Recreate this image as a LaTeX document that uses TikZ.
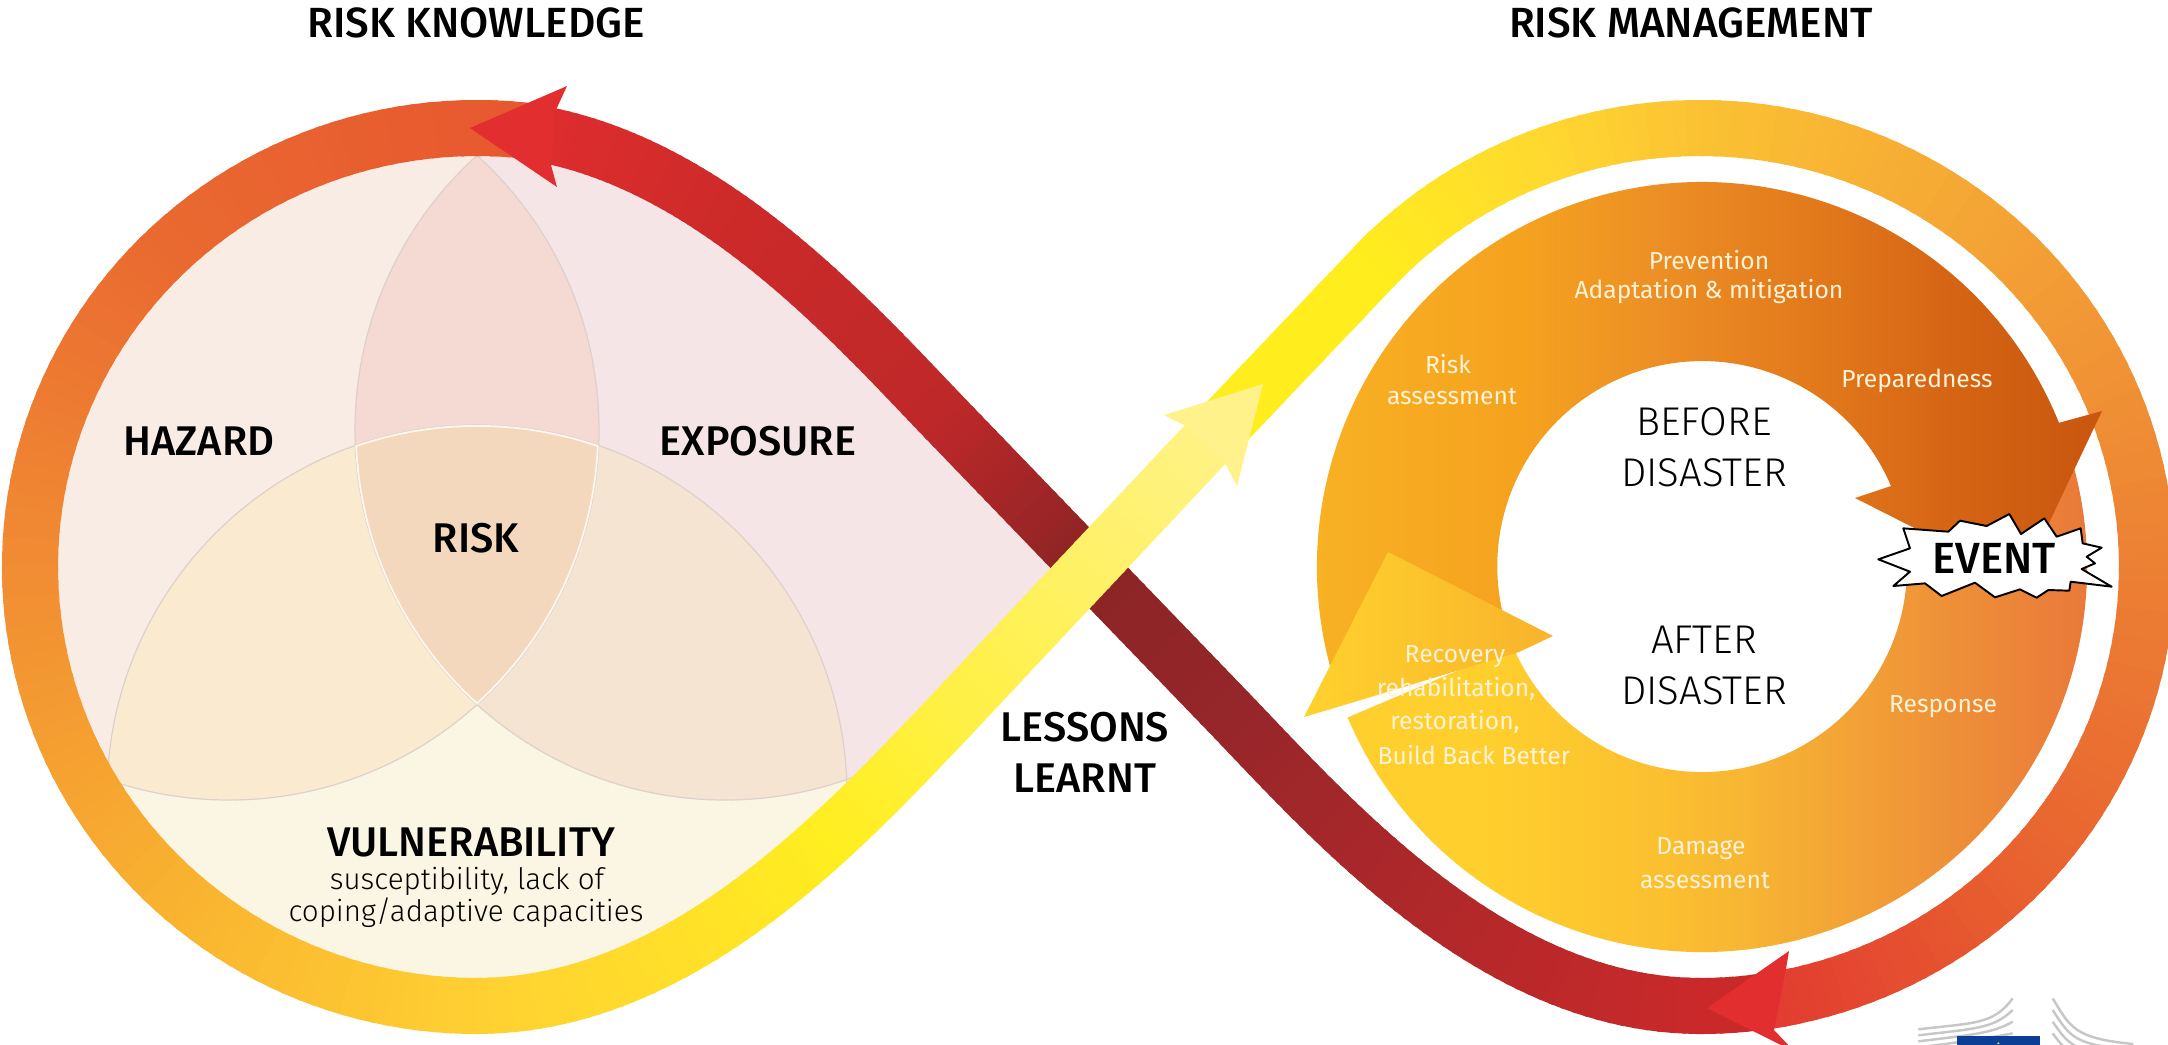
\documentclass[tikz,border=0pt]{standalone}
\usepackage{fontspec}
\setmainfont{Fira Sans}
\newfontfamily\medf{Fira Sans Medium}
\newfontfamily\lightf{Fira Sans Light}
\usetikzlibrary{calc}
\definecolor{hz}{HTML}{F9ECE5}\definecolor{ex}{HTML}{F5E5E7}\definecolor{vu}{HTML}{FBF5E3}
\definecolor{he}{HTML}{F5D9D3}\definecolor{hv}{HTML}{FAEBD0}\definecolor{ev}{HTML}{F6E4D2}\definecolor{hev}{HTML}{F4D8BD}
\definecolor{vln}{HTML}{DCD2CB}\definecolor{vwh}{HTML}{FDF7EF}
\definecolor{a0}{HTML}{E8572F}\definecolor{a1}{HTML}{E96A30}\definecolor{a2}{HTML}{F18C33}\definecolor{a3}{HTML}{F8B030}
\definecolor{a4}{HTML}{FFD032}\definecolor{a5}{HTML}{FFEE20}\definecolor{a6}{HTML}{FFF040}\definecolor{a7}{HTML}{FFF284}
\definecolor{b0}{HTML}{FFED1E}\definecolor{b1}{HTML}{FFD830}\definecolor{b2}{HTML}{FBC233}\definecolor{b3}{HTML}{F3A035}
\definecolor{b4}{HTML}{EC8034}\definecolor{b5}{HTML}{E8612F}\definecolor{b6}{HTML}{E23C30}
\definecolor{cs}{HTML}{D02A2A}\definecolor{c0}{HTML}{BC282A}\definecolor{c1}{HTML}{96262A}\definecolor{c2}{HTML}{8B2425}\definecolor{c3}{HTML}{BE2829}\definecolor{c5}{HTML}{CB2A29}\definecolor{c4}{HTML}{E02D2E}
\definecolor{redhead}{HTML}{E22E2F}\definecolor{yelhead}{HTML}{FFF28A}
\definecolor{lh0}{HTML}{FFD22D}\definecolor{lh1}{HTML}{F8B32C}
\definecolor{u0}{HTML}{F9B424}\definecolor{u1}{HTML}{F5A21F}\definecolor{u2}{HTML}{EC8F25}\definecolor{u3}{HTML}{E2781B}\definecolor{u4}{HTML}{D56414}\definecolor{u5}{HTML}{C8560F}
\definecolor{l0}{HTML}{FFCF2D}\definecolor{l4}{HTML}{FBBF30}\definecolor{l1}{HTML}{F7B633}\definecolor{l2}{HTML}{EE9038}\definecolor{l3}{HTML}{E8703A}
\definecolor{ringtxt}{HTML}{FFF3D6}\definecolor{eublue}{HTML}{0B3F96}
\pgfdeclarehorizontalshading{uppershade}{100bp}{color(0bp)=(u0);color(25bp)=(u0);color(40bp)=(u1);color(48bp)=(u2);color(58bp)=(u3);color(66bp)=(u4);color(75bp)=(u5);color(100bp)=(u5)}
\pgfdeclarehorizontalshading{lowershade}{100bp}{color(0bp)=(l0);color(34bp)=(l0);color(45bp)=(l4);color(50bp)=(l1);color(63bp)=(l2);color(75bp)=(l3);color(100bp)=(l3)}
% band pieces: colours run along the centre line
\newcommand\arcband[7]{% cx cy a0 a1 c0 c1 n
  \foreach \i in {1,...,#7}{%
    \pgfmathsetmacro\aa{#3+(#4-#3)*(\i-1)/#7}%
    \pgfmathsetmacro\bb{#3+(#4-#3)*(\i+0.4)/#7}%
    \pgfmathsetmacro\pct{100*(1-(\i-0.5)/#7)}%
    \draw[band,draw=#5!\pct!#6] (#1,#2)++(\aa:447 and 439) arc[start angle=\aa,end angle=\bb,x radius=447,y radius=439];
  }}
\newcommand\lineband[7]{% x0 y0 x1 y1 c0 c1 n
  \foreach \i in {1,...,#7}{%
    \pgfmathsetmacro\pa{(\i-1)/#7}%
    \pgfmathsetmacro\pb{(\i+0.4)/#7}%
    \pgfmathsetmacro\pct{100*(1-(\i-0.5)/#7)}%
    \draw[band,draw=#5!\pct!#6] ({#1+(#3-#1)*\pa},{#2+(#4-#2)*\pa}) -- ({#1+(#3-#1)*\pb},{#2+(#4-#2)*\pb});
  }}
\newcommand\setbez[8]{\def\Bxa{#1}\def\Bya{#2}\def\Bxb{#3}\def\Byb{#4}\def\Bxc{#5}\def\Byc{#6}\def\Bxd{#7}\def\Byd{#8}}
\newcommand\bzpt[3]{% t, macro x, macro y
  \pgfmathsetmacro\uu{1-#1}%
  \pgfmathsetmacro#2{\uu*\uu*\uu*\Bxa+3*\uu*\uu*#1*\Bxb+3*\uu*#1*#1*\Bxc+#1*#1*#1*\Bxd}%
  \pgfmathsetmacro#3{\uu*\uu*\uu*\Bya+3*\uu*\uu*#1*\Byb+3*\uu*#1*#1*\Byc+#1*#1*#1*\Byd}}
\newcommand\bezband[5]{% t0 t1 c0 c1 n
  \foreach \i in {1,...,#5}{%
    \pgfmathsetmacro\ta{#1+(#2-#1)*(\i-1)/#5}%
    \pgfmathsetmacro\tb{#1+(#2-#1)*(\i+0.4)/#5}%
    \pgfmathsetmacro\pct{100*(1-(\i-0.5)/#5)}%
    \bzpt{\ta}{\xa}{\ya}\bzpt{\tb}{\xb}{\yb}%
    \draw[band,draw=#3!\pct!#4] (\xa,\ya) -- (\xb,\yb);
  }}
\tikzset{band/.style={line width=0.56cm,line cap=butt},
  bigcap/.style={font=\medf\fontsize{12pt}{14pt}\selectfont,text=black,inner sep=0pt},
  midcap/.style={font=\medf\fontsize{11.8pt}{13pt}\selectfont,text=black,inner sep=0pt},
  subtxt/.style={font=\lightf\fontsize{8.4pt}{10pt}\selectfont,text=black,inner sep=0pt},
  centertxt/.style={font=\lightf\fontsize{11.4pt}{14pt}\selectfont,text=black,inner sep=0pt},
  ringlab/.style={font=\rmfamily\fontsize{7pt}{9pt}\selectfont,text=ringtxt,inner sep=0pt},
  vennline/.style={draw=vln,line width=0.35pt},
  wing/.style={draw=black!22,line width=0.7pt}}
\begin{document}
\begin{tikzpicture}[x=0.01cm,y=-0.01cm]
\useasboundingbox (0,0) rectangle (2168,1044);
\clip (0,0) rectangle (2168,1044);
% ---------- Venn ----------
\begin{scope}
 \clip (477,128) .. controls (677,128) and (836,304) .. (940,413) -- (1088.5,567) -- (940,727) .. controls (836,836) and (677,1006) .. (477,1006) arc[start angle=90,end angle=270,x radius=447,y radius=439] -- cycle;
 \fill[vu] (0,100) rectangle (1100,1044);
 \fill[hz] (229,430) circle[radius=370];
 \fill[ex] (725,430) circle[radius=370];
 \begin{scope}\clip (229,430) circle[radius=370]; \fill[he] (725,430) circle[radius=370];\end{scope}
 \begin{scope}\clip (477,795) circle[radius=370];
   \fill[vu] (0,100) rectangle (1100,1044);
   \fill[hv] (229,430) circle[radius=370];
   \fill[ev] (725,430) circle[radius=370];
   \begin{scope}\clip (229,430) circle[radius=370]; \fill[hev] (725,430) circle[radius=370];\end{scope}
 \end{scope}
 \draw[vennline] (229,430) circle[radius=370];
 \draw[vennline] (725,430) circle[radius=370];
 \draw[vennline] (477,795) circle[radius=370];
 \begin{scope}\clip (477,795) circle[radius=370];\clip (229,430) circle[radius=370];\clip (725,430) circle[radius=370];
  \draw[vwh,line width=1pt] (477,795) circle[radius=370];
  \draw[vwh,line width=1pt] (229,430) circle[radius=370];
  \draw[vwh,line width=1pt] (725,430) circle[radius=370];
 \end{scope}
\end{scope}
% ---------- dark red band ----------
\arcband{1700}{567}{78}{90}{cs}{cs!70!c0}{8}
\setbez{1700}{1006}{1500}{1006}{1341}{830}{1237}{721}
\bezband{0}{1}{cs!70!c0}{c1}{50}
\lineband{1237}{721}{1088.5}{567}{c1}{c2}{20}
\lineband{1088.5}{567}{940}{413}{c2}{c3}{20}
\setbez{477}{128}{677}{128}{836}{304}{940}{413}
\bezband{1}{0.5}{c3}{c5}{30}
\bezband{0.5}{0.08}{c5}{c4}{30}
% ---------- right yellow band ----------
\lineband{1205}{444.5}{1373.3}{267.5}{b0}{b0}{4}
\arcband{1700}{567}{223.03}{250}{b0}{b1}{16}
\arcband{1700}{567}{250}{270}{b1}{b2}{12}
\arcband{1700}{567}{270}{315}{b2}{b3}{24}
\arcband{1700}{567}{315}{360}{b3}{b4}{24}
\arcband{1700}{567}{360}{405}{b4}{b5}{24}
\arcband{1700}{567}{405}{441}{b5}{b6}{20}
% ---------- left band ----------
\arcband{477}{567}{276.5}{225}{a0}{a1}{26}
\arcband{477}{567}{225}{180}{a1}{a2}{24}
\arcband{477}{567}{180}{135}{a2}{a3}{24}
\arcband{477}{567}{135}{90}{a3}{a4}{24}
\setbez{477}{1006}{677}{1006}{836}{836}{940}{727}
\bezband{0}{0.7}{a4}{a5}{36}
\bezband{0.7}{1}{a5}{a6}{16}
\lineband{940}{727}{1205}{444.5}{a6}{a7}{36}
% ---------- heads of the bands ----------
\fill[redhead] (470,128) -- (567,86) -- (555,112) -- (551,165) -- (557,187) -- cycle;
\fill[redhead] (1707,1008) -- (1789,951) -- (1786,969) -- (1774,1030) -- (1795,1052) -- cycle;
\fill[yelhead] (1263,384) -- (1164,415) -- (1186,426) -- (1226,465) -- (1237,486) -- cycle;
% ---------- disaster cycle ----------
\path[shading=lowershade] (1702,567)++(-22:385) arc[start angle=-22,end angle=157,radius=385]
   -- ($(1702,567)+(157:205)$) arc[start angle=157,end angle=-5,radius=205] -- cycle;
\path[shading=uppershade] (1702,567)++(-195:385) arc[start angle=-195,end angle=-22,radius=385]
   -- (2102,411) -- (2021,582) -- (1855,498) -- (1891,486) arc[start angle=-23,end angle=-195,radius=205] -- cycle;
\path[left color=lh0,right color=lh1] (1388,552) -- (1553,636) -- (1519,652)
   -- (1341,706) -- (1304,717) -- cycle;
% ---------- event star ----------
\begin{scope}[shift={(1860,500)},x=0.01cm/3,y=-0.01cm/3]
 \filldraw[fill=white,draw=black,line width=0.55pt,line join=round] (130,85) -- (265,95) -- (300,62) -- (380,78) -- (448,42) -- (483,102) -- (553,55) -- (590,110) -- (662,85) -- (668,130) -- (725,143) -- (680,170) -- (705,190) -- (665,207) -- (755,260) -- (632,245) -- (628,272) -- (565,270) -- (530,293) -- (480,268) -- (405,292) -- (345,248) -- (245,288) -- (195,250) -- (100,258) -- (150,215) -- (55,178) -- (150,145) -- cycle;
\end{scope}
% ---------- logo ----------
\begin{scope}[shift={(1860,970)},x=0.01cm/3,y=-0.01cm/3]
 \foreach \k in {0,1,2,3}{
   \draw[wing] (175,{178+18*\k}) .. controls (340,{158+18*\k}) and (400,{165+12*\k}) .. (458,{85+35*\k});
   \draw[wing] (578,{85+35*\k}) .. controls (630,{170+30*\k}) and (640,{205+20*\k}) .. (820,{222+18*\k});
 }
 \fill[eublue] (292,198) rectangle (540,230);
 \fill[yellow!85!black] (415,216) -- (419,222) -- (411,222) -- cycle;
\end{scope}
% ---------- texts ----------
\node[bigcap] (t1) at (476,23) {RISK KNOWLEDGE};
\node[bigcap] (t2) at (1691,23) {RISK MANAGEMENT};
\node[midcap] (hazard) at (199,441) {HAZARD};
\node[midcap] (exposure) at (758,441) {EXPOSURE};
\node[midcap] (risk) at (476,538) {RISK};
\node[midcap] (vuln) at (471,842) {VULNERABILITY};
\node[subtxt] (s1) at (467,881) {susceptibility, lack of};
\node[subtxt] (s2) at (466,913) {coping/adaptive capacities};
\node[midcap] (les1) at (1085,727) {LESSONS};
\node[midcap] (les2) at (1085,778) {LEARNT};
\node[centertxt] (bef1) at (1704,422) {BEFORE};
\node[centertxt] (bef2) at (1704,473) {DISASTER};
\node[centertxt] (aft1) at (1704,640) {AFTER};
\node[centertxt] (aft2) at (1704,691) {DISASTER};
\node[midcap,font=\medf\fontsize{12.4pt}{14pt}\selectfont] (event) at (1994,558) {EVENT};
\node[ringlab] (p1) at (1709,260) {Prevention};
\node[ringlab] (p2) at (1709,292) {Adaptation \& mitigation};
\node[ringlab] (r1) at (1448,364) {Risk};
\node[ringlab] (r2) at (1452,397) {assessment};
\node[ringlab] (pr) at (1917,381) {Preparedness};
\node[ringlab] (re) at (1943,707) {Response};
\node[ringlab] (d1) at (1701,849) {Damage};
\node[ringlab] (d2) at (1705,881) {assessment};
\node[ringlab] (c1n) at (1455,657) {Recovery};
\node[ringlab] (c2n) at (1456,689) {rehabilitation,};
\node[ringlab] (c3n) at (1455,722) {restoration,};
\node[ringlab] (c4n) at (1474,755) {Build Back Better};
\end{tikzpicture}
\end{document}
